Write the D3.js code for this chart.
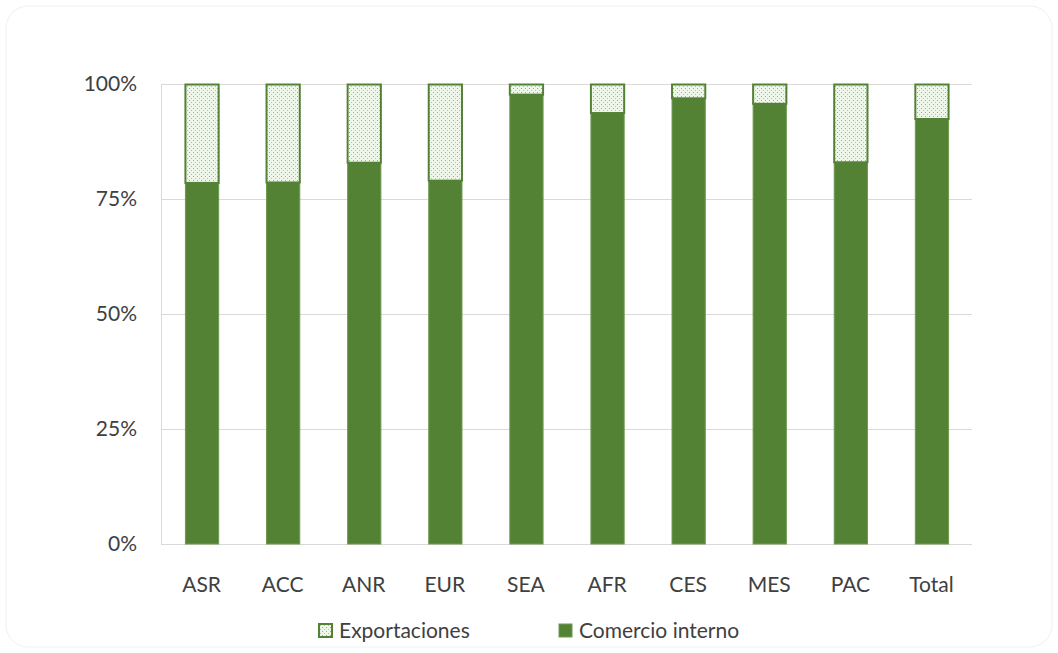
<!DOCTYPE html>
<html lang="es">
<head>
<meta charset="utf-8">
<title>Comercio interno vs exportaciones</title>
<script src="https://cdn.jsdelivr.net/npm/d3@7"></script>
<style>
  body { margin: 0; background: #fff; }
  svg { display: block; font-family: Lato, "Open Sans", sans-serif; }
  .tick text { fill: #404040; font-size: 21px; font-family: Lato, "Open Sans", sans-serif; }
  .legend text { fill: #404040; font-size: 21px; }
</style>
</head>
<body>
<svg width="1058" height="653"></svg>
<script>
  // data (share of domestic trade per region)
  var regions = ["ASR", "ACC", "ANR", "EUR", "SEA", "AFR", "CES", "MES", "PAC", "Total"];
  var interno = [0.786, 0.787, 0.830, 0.791, 0.978, 0.938, 0.970, 0.958, 0.831, 0.925];
  var exportaciones = interno.map(function(v) { return 1 - v; });
  var yTicks = [0, 0.25, 0.5, 0.75, 1];
  var seriesNames = ["Exportaciones", "Comercio interno"];

  var green = "#548235";

  var svg = d3.select("svg");
  var margin = {left: 161, right: 86, top: 84, bottom: 109};
  var width = 1058 - margin.left - margin.right,
      height = 653 - margin.top - margin.bottom;

  // faint rounded frame
  svg.append("rect")
    .attr("x", 6).attr("y", 6)
    .attr("width", 1046).attr("height", 641)
    .attr("rx", 22)
    .attr("fill", "#fff")
    .attr("stroke", "#f0f0f0");

  // dotted fill for exports
  var defs = svg.append("defs");
  var pat = defs.append("pattern")
    .attr("id", "dots")
    .attr("width", 4).attr("height", 4)
    .attr("patternUnits", "userSpaceOnUse");
  pat.append("rect").attr("width", 4).attr("height", 4).attr("fill", "#eef5e9");
  pat.append("rect").attr("x", 0).attr("y", 0).attr("width", 1).attr("height", 1).attr("fill", "#8fb673");
  pat.append("rect").attr("x", 2).attr("y", 2).attr("width", 1).attr("height", 1).attr("fill", "#a9c893");

  var g = svg.append("g").attr("transform", "translate(" + margin.left + "," + margin.top + ")");

  var x = d3.scaleBand().domain(regions).range([0, width]).paddingInner(0.59).paddingOuter(0.295);
  var y = d3.scaleLinear().domain([0, 1]).range([height, 0]);

  // gridlines
  g.append("g")
    .selectAll("line")
    .data(yTicks)
    .enter().append("line")
    .attr("x1", 0).attr("x2", width)
    .attr("y1", function(d) { return y(d) + 0.5; })
    .attr("y2", function(d) { return y(d) + 0.5; })
    .attr("stroke", "#d9d9d9")
    .attr("stroke-width", 1);

  // y axis
  var yAxis = g.append("g")
    .call(d3.axisLeft(y).tickValues(yTicks).tickFormat(d3.format(".0%")).tickSize(0).tickPadding(24));
  yAxis.select(".domain").attr("stroke", "#d9d9d9").attr("d", "M0.5,0V" + (height + 0.5));

  // x axis labels
  var xAxis = g.append("g")
    .attr("transform", "translate(0," + height + ")")
    .call(d3.axisBottom(x).tickSize(0).tickPadding(33));
  xAxis.select(".domain").remove();

  // bars
  var bars = g.append("g").selectAll("g")
    .data(regions)
    .enter().append("g");

  bars.append("rect")
    .attr("x", function(d) { return x(d) + 0.5; })
    .attr("y", function(d, i) { return y(interno[i]); })
    .attr("width", x.bandwidth())
    .attr("height", function(d, i) { return height - y(interno[i]); })
    .attr("fill", green)
    .attr("stroke", "#6e9a52")
    .attr("stroke-width", 1);

  bars.append("rect")
    .attr("x", function(d) { return x(d) + 0.5; })
    .attr("y", y(1) + 0.5)
    .attr("width", x.bandwidth())
    .attr("height", function(d, i) { return y(interno[i]) - y(1); })
    .attr("fill", "url(#dots)")
    .attr("stroke", green)
    .attr("stroke-width", 2);

  // legend
  var legend = svg.append("g").attr("class", "legend");
  var legX = [318, 558];
  seriesNames.forEach(function(name, i) {
    var item = legend.append("g").attr("transform", "translate(" + legX[i] + ",623)");
    item.append("rect")
      .attr("x", 1).attr("y", 1)
      .attr("width", 13).attr("height", 13)
      .attr("fill", i === 0 ? "url(#dots)" : green)
      .attr("stroke", i === 0 ? green : "#6e9a52")
      .attr("stroke-width", i === 0 ? 2 : 1);
    item.append("text")
      .attr("x", 21).attr("y", 8)
      .attr("dy", "0.35em")
      .text(name);
  });
</script>
</body>
</html>
